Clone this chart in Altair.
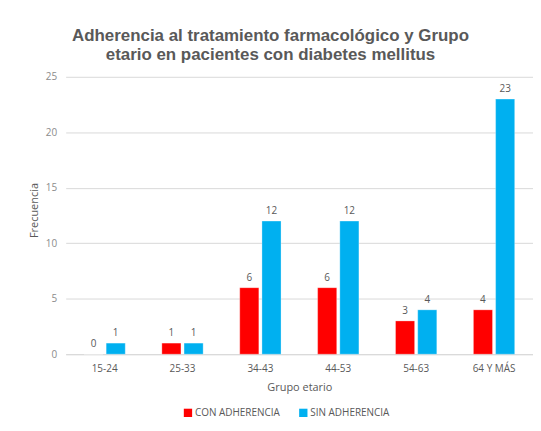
import altair as alt
import pandas as pd

grupos = ["15-24", "25-33", "34-43", "44-53", "54-63", "64 Y MÁS"]
con_adherencia = [0, 1, 6, 6, 3, 4]
sin_adherencia = [1, 1, 12, 12, 4, 23]
series = ["CON ADHERENCIA", "SIN ADHERENCIA"]
colores = ["#FF0000", "#00B0F0"]

rows = []
for g, c, s in zip(grupos, con_adherencia, sin_adherencia):
    rows.append({"grupo": g, "serie": series[0], "valor": c})
    rows.append({"grupo": g, "serie": series[1], "valor": s})
df = pd.DataFrame(rows)

gray = "#595959"

x_enc = alt.X("grupo:N", sort=grupos, title="Grupo etario",
              scale=alt.Scale(paddingInner=0.47, paddingOuter=0.235),
              axis=alt.Axis(labelAngle=0, labelColor=gray, labelFontSize=10,
                            labelFont="Open Sans", titleFont="Open Sans",
                            titleFontSize=11, titleColor=gray, titleFontWeight="normal",
                            domainColor="#D9D9D9", ticks=False, labelPadding=9,
                            titlePadding=9))
xoff = alt.XOffset("serie:N", sort=series, scale=alt.Scale(paddingInner=0.14))
y_enc = alt.Y("valor:Q", title="Frecuencia",
              scale=alt.Scale(domain=[0, 25]),
              axis=alt.Axis(values=[0, 5, 10, 15, 20, 25], labelColor="#8C8C8C",
                            labelFontSize=10, labelFont="Open Sans",
                            titleFont="Open Sans", titleFontSize=11, titleColor=gray,
                            titleFontWeight="normal", domain=False, ticks=False,
                            gridColor="#D9D9D9", labelPadding=9, titlePadding=6))

color_enc = alt.Color("serie:N", sort=series,
                      scale=alt.Scale(domain=series, range=colores),
                      legend=alt.Legend(title=" ", titleOrient="left", titlePadding=118,
                                        titleFontSize=10,
                                        orient="bottom", direction="horizontal",
                                        symbolType="square", offset=15,
                                        symbolSize=70, symbolStrokeWidth=0,
                                        labelFontSize=10, labelColor=gray,
                                        labelFont="Open Sans", columnPadding=18,
                                        labelOffset=2))

bars = alt.Chart(df).mark_bar(stroke="#FFFFFF", strokeWidth=0.5, strokeOpacity=0.6).encode(
    x=x_enc, xOffset=xoff, y=y_enc, color=color_enc
)
labels = alt.Chart(df).mark_text(dy=-10, fontSize=10, color=gray, font="Open Sans").encode(
    x=alt.X("grupo:N", sort=grupos), xOffset=xoff, y="valor:Q", text="valor:Q"
)

chart = alt.layer(bars, labels).properties(
    width=528, height=413,
    padding={"left": 20, "top": 18, "right": 0, "bottom": 2},
    autosize=alt.AutoSizeParams(type="fit", contains="padding"),
    title=alt.TitleParams(
        ["Adherencia al tratamiento farmacológico y Grupo",
         "etario en pacientes con diabetes mellitus"],
        anchor="middle", dx=-29, fontSize=17, fontWeight="bold", color=gray,
        font="Liberation Sans", lineHeight=19, offset=2)
).configure_view(stroke=None)

chart.save("out.html", embed_options={"renderer": "svg", "actions": False})
